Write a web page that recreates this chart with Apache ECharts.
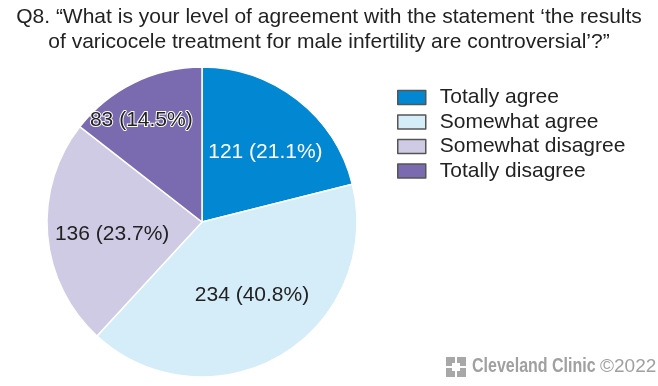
<!DOCTYPE html>
<html><head><meta charset="utf-8">
<script src="https://cdn.jsdelivr.net/npm/echarts@6/dist/echarts.min.js"></script>
<style>html,body{margin:0;padding:0;background:#fff}#c{width:658px;height:386px}</style>
</head><body><div id="c"></div>
<script>
const categories = ['Totally agree', 'Somewhat agree', 'Somewhat disagree', 'Totally disagree'];
const counts = [121, 234, 136, 83];
const percents = ['21.1', '40.8', '23.7', '14.5'];
const colors = ['#0288D3', '#D5ECF9', '#CFCBE5', '#7A6AAF'];
const labelColors = ['#ffffff', '#222222', '#222222', '#222222'];
const labelStretch = [1.2, 1.07, 1.17, 1.52];
const labelNudge = [[4, 6], [6, -1], [4, 4], [-7, 8]];

const chart = echarts.init(document.getElementById('c'));
const cx = 202, cy = 222;
const FF = 'Liberation Sans, Arial, sans-serif';
chart.setOption({
  animation: false,
  title: {
    text: 'Q8. \u201CWhat is your level of agreement with the statement \u2018the results\nof varicocele treatment for male infertility are controversial\u2019?\u201D',
    left: 'center', top: 0,
    textStyle: { fontFamily: FF, fontSize: 21, fontWeight: 'normal', color: '#222', lineHeight: 25 }
  },
  legend: {
    orient: 'vertical', left: 397, top: 87, padding: 0,
    itemWidth: 28, itemHeight: 14, itemGap: 3.5,
    icon: 'rect',
    itemStyle: { borderColor: '#555', borderWidth: 1.5 },
    textStyle: { fontFamily: FF, fontSize: 21, color: '#222', padding: [0, 0, 0, 9] },
    data: categories
  },
  series: [{
    type: 'pie',
    center: [cx, cy], radius: 155,
    startAngle: 90, clockwise: true,
    itemStyle: { borderColor: '#fff', borderWidth: 1.5 },
    label: {
      position: 'inner',
      fontFamily: FF, fontSize: 21,
      formatter: p => counts[p.dataIndex] + ' (' + percents[p.dataIndex] + '%)'
    },
    labelLayout: function (p) {
      const r = p.labelRect;
      const lx = r.x + r.width / 2, ly = r.y + r.height / 2;
      const k = labelStretch[p.dataIndex];
      const n = labelNudge[p.dataIndex];
      return { x: cx + (lx - cx) * k + n[0], y: cy + (ly - cy) * k + n[1] };
    },
    data: categories.map((c, i) => ({
      name: c, value: counts[i],
      itemStyle: { color: colors[i] },
      label: i === 3 ? { color: labelColors[i], textBorderColor: '#fff', textBorderWidth: 2 } : { color: labelColors[i] }
    }))
  }],
  graphic: [
    { type: 'group', x: 446, y: 357, children: [
      { type: 'rect', shape: { x: 0, y: 0, width: 9, height: 9 }, style: { fill: '#a8a8a8' } },
      { type: 'rect', shape: { x: 11, y: 0, width: 9, height: 9 }, style: { fill: '#a8a8a8' } },
      { type: 'rect', shape: { x: 0, y: 11, width: 9, height: 9 }, style: { fill: '#a8a8a8' } },
      { type: 'rect', shape: { x: 11, y: 11, width: 9, height: 9 }, style: { fill: '#a8a8a8' } },
      { type: 'rect', shape: { x: 6, y: 6, width: 8, height: 8 }, style: { fill: '#fff' } }
    ]},
    { type: 'text', x: 472, y: 356, scaleX: 0.8, style: { text: 'Cleveland Clinic', fontFamily: FF, fontSize: 20, fontWeight: 'bold', fill: '#a0a0a0' } },
    { type: 'text', x: 600, y: 357, style: { text: '\u00A92022', fontFamily: FF, fontSize: 19, fill: '#a0a0a0' } }
  ]
});
</script></body></html>
